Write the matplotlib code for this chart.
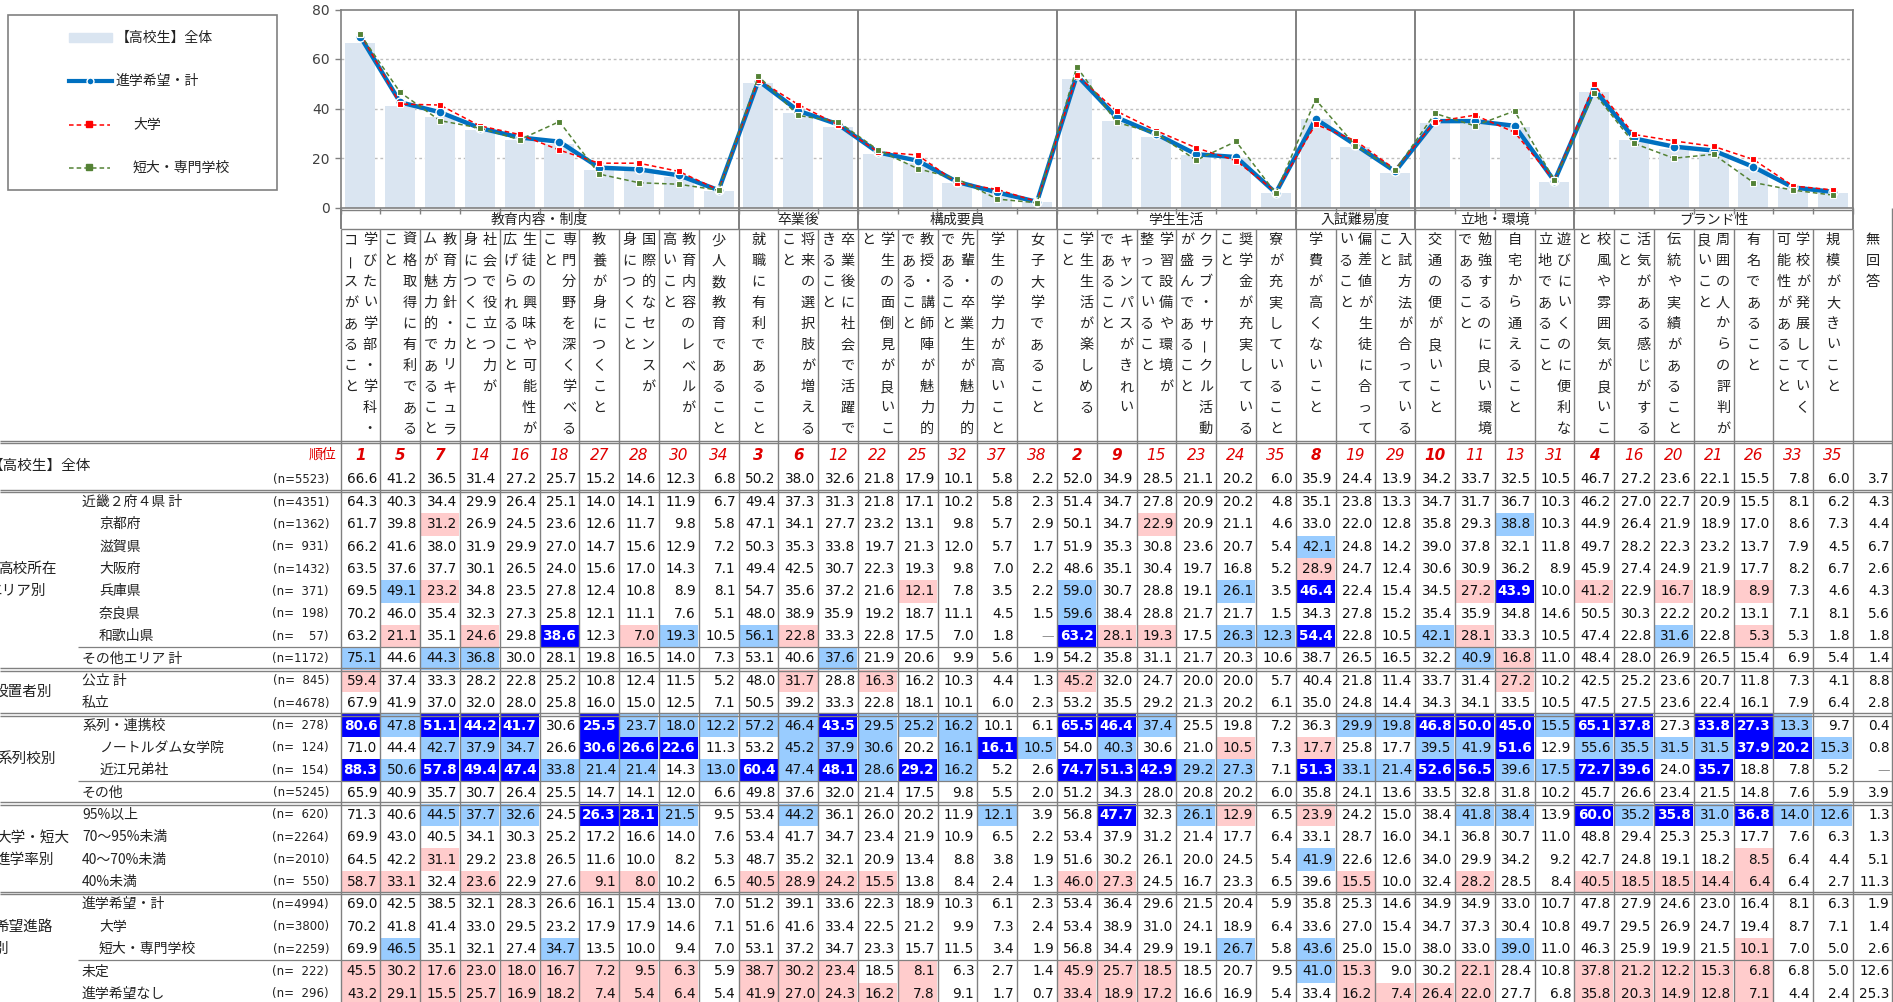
import matplotlib
matplotlib.use("Agg")
import matplotlib.pyplot as plt
from matplotlib.patches import Rectangle
from matplotlib.lines import Line2D
import numpy as np

JP = ['Noto Sans CJK JP', 'DejaVu Sans']
NUM = ['DejaVu Sans']

# ---------------- data ----------------
groups = ["教育内容・制度", "卒業後", "構成要員", "学生生活", "入試難易度", "立地・環境", "ブランド性"]
group_sizes = [10, 3, 5, 6, 3, 4, 7]

label_lines = [
    ["学びたい学部・学科・", "コースがあること"],
    ["資格取得に有利である", "こと"],
    ["教育方針・カリキュラ", "ムが魅力的であること"],
    ["社会で役立つ力が", "身につくこと"],
    ["生徒の興味や可能性が", "広げられること"],
    ["専門分野を深く学べる", "こと"],
    ["教養が身につくこと"],
    ["国際的なセンスが", "身につくこと"],
    ["教育内容のレベルが", "高いこと"],
    ["少人数教育であること"],
    ["就職に有利であること"],
    ["将来の選択肢が増える", "こと"],
    ["卒業後に社会で活躍で", "きること"],
    ["学生の面倒見が良いこ", "と"],
    ["教授・講師陣が魅力的", "であること"],
    ["先輩・卒業生が魅力的", "であること"],
    ["学生の学力が高いこと"],
    ["女子大学であること"],
    ["学生生活が楽しめる", "こと"],
    ["キャンパスがきれい", "であること"],
    ["学習設備や環境が", "整っていること"],
    ["クラブ・サークル活動", "が盛んであること"],
    ["奨学金が充実している", "こと"],
    ["寮が充実していること"],
    ["学費が高くないこと"],
    ["偏差値が生徒に合って", "いること"],
    ["入試方法が合っている", "こと"],
    ["交通の便が良いこと"],
    ["勉強するのに良い環境", "であること"],
    ["自宅から通えること"],
    ["遊びにいくのに便利な", "立地であること"],
    ["校風や雰囲気が良いこ", "と"],
    ["活気がある感じがする", "こと"],
    ["伝統や実績があること"],
    ["周囲の人からの評判が", "良いこと"],
    ["有名であること"],
    ["学校が発展していく", "可能性があること"],
    ["規模が大きいこと"],
    ["無回答"],
]

rank = [1, 5, 7, 14, 16, 18, 27, 28, 30, 34, 3, 6, 12, 22, 25, 32, 37, 38,
        2, 9, 15, 23, 24, 35, 8, 19, 29, 10, 11, 13, 31, 4, 16, 20, 21, 26, 33, 35]

zentai = [66.6, 41.2, 36.5, 31.4, 27.2, 25.7, 15.2, 14.6, 12.3, 6.8, 50.2, 38.0, 32.6,
          21.8, 17.9, 10.1, 5.8, 2.2, 52.0, 34.9, 28.5, 21.1, 20.2, 6.0, 35.9, 24.4, 13.9,
          34.2, 33.7, 32.5, 10.5, 46.7, 27.2, 23.6, 22.1, 15.5, 7.8, 6.0, 3.7]
kinki = [64.3, 40.3, 34.4, 29.9, 26.4, 25.1, 14.0, 14.1, 11.9, 6.7, 49.4, 37.3, 31.3,
         21.8, 17.1, 10.2, 5.8, 2.3, 51.4, 34.7, 27.8, 20.9, 20.2, 4.8, 35.1, 23.8, 13.3,
         34.7, 31.7, 36.7, 10.3, 46.2, 27.0, 22.7, 20.9, 15.5, 8.1, 6.2, 4.3]
kyoto = [61.7, 39.8, 31.2, 26.9, 24.5, 23.6, 12.6, 11.7, 9.8, 5.8, 47.1, 34.1, 27.7,
         23.2, 13.1, 9.8, 5.7, 2.9, 50.1, 34.7, 22.9, 20.9, 21.1, 4.6, 33.0, 22.0, 12.8,
         35.8, 29.3, 38.8, 10.3, 44.9, 26.4, 21.9, 18.9, 17.0, 8.6, 7.3, 4.4]
shiga = [66.2, 41.6, 38.0, 31.9, 29.9, 27.0, 14.7, 15.6, 12.9, 7.2, 50.3, 35.3, 33.8,
         19.7, 21.3, 12.0, 5.7, 1.7, 51.9, 35.3, 30.8, 23.6, 20.7, 5.4, 42.1, 24.8, 14.2,
         39.0, 37.8, 32.1, 11.8, 49.7, 28.2, 22.3, 23.2, 13.7, 7.9, 4.5, 6.7]
osaka = [63.5, 37.6, 37.7, 30.1, 26.5, 24.0, 15.6, 17.0, 14.3, 7.1, 49.4, 42.5, 30.7,
         22.3, 19.3, 9.8, 7.0, 2.2, 48.6, 35.1, 30.4, 19.7, 16.8, 5.2, 28.9, 24.7, 12.4,
         30.6, 30.9, 36.2, 8.9, 45.9, 27.4, 24.9, 21.9, 17.7, 8.2, 6.7, 2.6]
hyogo = [69.5, 49.1, 23.2, 34.8, 23.5, 27.8, 12.4, 10.8, 8.9, 8.1, 54.7, 35.6, 37.2,
         21.6, 12.1, 7.8, 3.5, 2.2, 59.0, 30.7, 28.8, 19.1, 26.1, 3.5, 46.4, 22.4, 15.4,
         34.5, 27.2, 43.9, 10.0, 41.2, 22.9, 16.7, 18.9, 8.9, 7.3, 4.6, 4.3]
nara = [70.2, 46.0, 35.4, 32.3, 27.3, 25.8, 12.1, 11.1, 7.6, 5.1, 48.0, 38.9, 35.9,
        19.2, 18.7, 11.1, 4.5, 1.5, 59.6, 38.4, 28.8, 21.7, 21.7, 1.5, 34.3, 27.8, 15.2,
        35.4, 35.9, 34.8, 14.6, 50.5, 30.3, 22.2, 20.2, 13.1, 7.1, 8.1, 5.6]
wakayama = [63.2, 21.1, 35.1, 24.6, 29.8, 38.6, 12.3, 7.0, 19.3, 10.5, 56.1, 22.8, 33.3,
            22.8, 17.5, 7.0, 1.8, None, 63.2, 28.1, 19.3, 17.5, 26.3, 12.3, 54.4, 22.8, 10.5,
            42.1, 28.1, 33.3, 10.5, 47.4, 22.8, 31.6, 22.8, 5.3, 5.3, 1.8, 1.8]
sonota_area = [75.1, 44.6, 44.3, 36.8, 30.0, 28.1, 19.8, 16.5, 14.0, 7.3, 53.1, 40.6, 37.6,
               21.9, 20.6, 9.9, 5.6, 1.9, 54.2, 35.8, 31.1, 21.7, 20.3, 10.6, 38.7, 26.5, 16.5,
               32.2, 40.9, 16.8, 11.0, 48.4, 28.0, 26.9, 26.5, 15.4, 6.9, 5.4, 1.4]
kouritsu = [59.4, 37.4, 33.3, 28.2, 22.8, 25.2, 10.8, 12.4, 11.5, 5.2, 48.0, 31.7, 28.8,
            16.3, 16.2, 10.3, 4.4, 1.3, 45.2, 32.0, 24.7, 20.0, 20.0, 5.7, 40.4, 21.8, 11.4,
            33.7, 31.4, 27.2, 10.2, 42.5, 25.2, 23.6, 20.7, 11.8, 7.3, 4.1, 8.8]
shiritsu = [67.9, 41.9, 37.0, 32.0, 28.0, 25.8, 16.0, 15.0, 12.5, 7.1, 50.5, 39.2, 33.3,
            22.8, 18.1, 10.1, 6.0, 2.3, 53.2, 35.5, 29.2, 21.3, 20.2, 6.1, 35.0, 24.8, 14.4,
            34.3, 34.1, 33.5, 10.5, 47.5, 27.5, 23.6, 22.4, 16.1, 7.9, 6.4, 2.8]
keiretsu = [80.6, 47.8, 51.1, 44.2, 41.7, 30.6, 25.5, 23.7, 18.0, 12.2, 57.2, 46.4, 43.5,
            29.5, 25.2, 16.2, 10.1, 6.1, 65.5, 46.4, 37.4, 25.5, 19.8, 7.2, 36.3, 29.9, 19.8,
            46.8, 50.0, 45.0, 15.5, 65.1, 37.8, 27.3, 33.8, 27.3, 13.3, 9.7, 0.4]
notre = [71.0, 44.4, 42.7, 37.9, 34.7, 26.6, 30.6, 26.6, 22.6, 11.3, 53.2, 45.2, 37.9,
         30.6, 20.2, 16.1, 16.1, 10.5, 54.0, 40.3, 30.6, 21.0, 10.5, 7.3, 17.7, 25.8, 17.7,
         39.5, 41.9, 51.6, 12.9, 55.6, 35.5, 31.5, 31.5, 37.9, 20.2, 15.3, 0.8]
oumi = [88.3, 50.6, 57.8, 49.4, 47.4, 33.8, 21.4, 21.4, 14.3, 13.0, 60.4, 47.4, 48.1,
        28.6, 29.2, 16.2, 5.2, 2.6, 74.7, 51.3, 42.9, 29.2, 27.3, 7.1, 51.3, 33.1, 21.4,
        52.6, 56.5, 39.6, 17.5, 72.7, 39.6, 24.0, 35.7, 18.8, 7.8, 5.2, None]
sonota = [65.9, 40.9, 35.7, 30.7, 26.4, 25.5, 14.7, 14.1, 12.0, 6.6, 49.8, 37.6, 32.0,
          21.4, 17.5, 9.8, 5.5, 2.0, 51.2, 34.3, 28.0, 20.8, 20.2, 6.0, 35.8, 24.1, 13.6,
          33.5, 32.8, 31.8, 10.2, 45.7, 26.6, 23.4, 21.5, 14.8, 7.6, 5.9, 3.9]
rate95 = [71.3, 40.6, 44.5, 37.7, 32.6, 24.5, 26.3, 28.1, 21.5, 9.5, 53.4, 44.2, 36.1,
          26.0, 20.2, 11.9, 12.1, 3.9, 56.8, 47.7, 32.3, 26.1, 12.9, 6.5, 23.9, 24.2, 15.0,
          38.4, 41.8, 38.4, 13.9, 60.0, 35.2, 35.8, 31.0, 36.8, 14.0, 12.6, 1.3]
rate70 = [69.9, 43.0, 40.5, 34.1, 30.3, 25.2, 17.2, 16.6, 14.0, 7.6, 53.4, 41.7, 34.7,
          23.4, 21.9, 10.9, 6.5, 2.2, 53.4, 37.9, 31.2, 21.4, 17.7, 6.4, 33.1, 28.7, 16.0,
          34.1, 36.8, 30.7, 11.0, 48.8, 29.4, 25.3, 25.3, 17.7, 7.6, 6.3, 1.3]
rate40 = [64.5, 42.2, 31.1, 29.2, 23.8, 26.5, 11.6, 10.0, 8.2, 5.3, 48.7, 35.2, 32.1,
          20.9, 13.4, 8.8, 3.8, 1.9, 51.6, 30.2, 26.1, 20.0, 24.5, 5.4, 41.9, 22.6, 12.6,
          34.0, 29.9, 34.2, 9.2, 42.7, 24.8, 19.1, 18.2, 8.5, 6.4, 4.4, 5.1]
rate0 = [58.7, 33.1, 32.4, 23.6, 22.9, 27.6, 9.1, 8.0, 10.2, 6.5, 40.5, 28.9, 24.2,
         15.5, 13.8, 8.4, 2.4, 1.3, 46.0, 27.3, 24.5, 16.7, 23.3, 6.5, 39.6, 15.5, 10.0,
         32.4, 28.2, 28.5, 8.4, 40.5, 18.5, 18.5, 14.4, 6.4, 6.4, 2.7, 11.3]
shingaku_kei = [69.0, 42.5, 38.5, 32.1, 28.3, 26.6, 16.1, 15.4, 13.0, 7.0, 51.2, 39.1, 33.6,
                22.3, 18.9, 10.3, 6.1, 2.3, 53.4, 36.4, 29.6, 21.5, 20.4, 5.9, 35.8, 25.3, 14.6,
                34.9, 34.9, 33.0, 10.7, 47.8, 27.9, 24.6, 23.0, 16.4, 8.1, 6.3, 1.9]
daigaku = [70.2, 41.8, 41.4, 33.0, 29.5, 23.2, 17.9, 17.9, 14.6, 7.1, 51.6, 41.6, 33.4,
           22.5, 21.2, 9.9, 7.3, 2.4, 53.4, 38.9, 31.0, 24.1, 18.9, 6.4, 33.6, 27.0, 15.4,
           34.7, 37.3, 30.4, 10.8, 49.7, 29.5, 26.9, 24.7, 19.4, 8.7, 7.1, 1.4]
tandai = [69.9, 46.5, 35.1, 32.1, 27.4, 34.7, 13.5, 10.0, 9.4, 7.0, 53.1, 37.2, 34.7,
          23.3, 15.7, 11.5, 3.4, 1.9, 56.8, 34.4, 29.9, 19.1, 26.7, 5.8, 43.6, 25.0, 15.0,
          38.0, 33.0, 39.0, 11.0, 46.3, 25.9, 19.9, 21.5, 10.1, 7.0, 5.0, 2.6]
mitei = [45.5, 30.2, 17.6, 23.0, 18.0, 16.7, 7.2, 9.5, 6.3, 5.9, 38.7, 30.2, 23.4,
         18.5, 8.1, 6.3, 2.7, 1.4, 45.9, 25.7, 18.5, 18.5, 20.7, 9.5, 41.0, 15.3, 9.0,
         30.2, 22.1, 28.4, 10.8, 37.8, 21.2, 12.2, 15.3, 6.8, 6.8, 5.0, 12.6]
nashi = [43.2, 29.1, 15.5, 25.7, 16.9, 18.2, 7.4, 5.4, 6.4, 5.4, 41.9, 27.0, 24.3,
         16.2, 7.8, 9.1, 1.7, 0.7, 33.4, 18.9, 17.2, 16.6, 16.9, 5.4, 33.4, 16.2, 7.4,
         26.4, 22.0, 27.7, 6.8, 35.8, 20.3, 14.9, 12.8, 7.1, 4.4, 2.4, 25.3]

row_names = ["近畿２府４県 計", "京都府", "滋賀県", "大阪府", "兵庫県", "奈良県", "和歌山県",
             "その他エリア 計", "公立 計", "私立", "系列・連携校", "ノートルダム女学院", "近江兄弟社",
             "その他", "95%以上", "70～95%未満", "40～70%未満", "40%未満",
             "進学希望・計", "大学", "短大・専門学校", "未定", "進学希望なし"]
row_n = [4351, 1362, 931, 1432, 371, 198, 57, 1172, 845, 4678, 278, 124, 154, 5245,
         620, 2264, 2010, 550, 4994, 3800, 2259, 222, 296]
row_indent = [0, 1, 1, 1, 1, 1, 1, 0, 0, 0, 0, 1, 1, 0, 0, 0, 0, 0, 0, 1, 1, 0, 0]
row_values = [kinki, kyoto, shiga, osaka, hyogo, nara, wakayama, sonota_area, kouritsu,
              shiritsu, keiretsu, notre, oumi, sonota, rate95, rate70, rate40, rate0,
              shingaku_kei, daigaku, tandai, mitei, nashi]
zentai_n = 5523

series_labels = ["【高校生】全体", "進学希望・計", "大学", "短大・専門学校"]

# ---------------- layout ----------------
W, H = 1893, 1002
X0, CW = 340.5, 39.8
NC = 39
PLOT_TOP, PLOT_BOT = 9.5, 207.5
HDR_BOT = 229
LBL_BOT = 442
RANK_Y, TOT_Y = 455, 479
ROW0, RH = 502, 22.35
GRID = '#808080'

BAR_C = '#dae5f1'
BLUE_C = '#0070c0'
RED_C = '#ff0000'
GREEN_C = '#548235'
DARK_BG, LIGHT_BG, PINK_BG = '#0000ff', '#99ccff', '#ffcccc'

fig = plt.figure(figsize=(W / 100, H / 100), dpi=100)
tax = fig.add_axes([0, 0, 1, 1])
tax.set_xlim(0, W)
tax.set_ylim(H, 0)
tax.axis('off')


def cl(i):
    return X0 + i * CW


def hline(y, x1=0, x2=W, double=False, lw=1.0):
    if double:
        for dy in (-1.3, 1.3):
            tax.plot([x1, x2], [y + dy, y + dy], color=GRID, lw=1.0, zorder=2, solid_capstyle='butt')
    else:
        tax.plot([x1, x2], [y, y], color=GRID, lw=lw, zorder=2, solid_capstyle='butt')


def vline(x, y1, y2, lw=1.0):
    tax.plot([x, x], [y1, y2], color=GRID, lw=lw, zorder=2, solid_capstyle='butt')


# ---------------- chart ----------------
ax = fig.add_axes([X0 / W, 1 - PLOT_BOT / H, 38 * CW / W, (PLOT_BOT - PLOT_TOP) / H])
x = np.arange(38)
ax.bar(x, zentai[:38], width=0.75, color=BAR_C, zorder=1)
for g in (20, 40, 60):
    ax.axhline(g, color='#bfbfbf', lw=1.0, ls=(0, (2, 2)), zorder=0.5)
ax.plot(x, shingaku_kei[:38], color=BLUE_C, lw=3.2, marker='o', ms=6.5, mfc=BLUE_C,
        mec='white', mew=1.0, zorder=3)
ax.plot(x, daigaku[:38], color=RED_C, lw=1.1, ls=(0, (3, 2)), marker='s', ms=5, mfc=RED_C,
        mec='white', mew=0.8, zorder=4)
ax.plot(x, tandai[:38], color=GREEN_C, lw=1.1, ls=(0, (3, 2)), marker='s', ms=5, mfc=GREEN_C,
        mec='white', mew=0.8, zorder=5)
ax.set_xlim(-0.5, 37.5)
ax.set_ylim(0, 80)
ax.set_yticks([0, 20, 40, 60, 80])
ax.set_xticks(np.arange(-0.5, 38, 1.0))
ax.set_xticklabels([])
ax.tick_params(axis='x', length=4, color=GRID, width=1)
ax.tick_params(axis='y', length=4, color=GRID, width=1, labelsize=10, labelcolor='#404040', pad=4)
for s in ax.spines.values():
    s.set_color(GRID)
    s.set_linewidth(1.2)
b = 0
for gs in group_sizes:
    b += gs
    ax.axvline(b - 0.5, color=GRID, lw=1.4, zorder=2)

# ---------------- legend ----------------
tax.add_patch(Rectangle((8, 15), 269, 175, fill=False, ec=GRID, lw=1.2, zorder=2))
tax.add_patch(Rectangle((69, 33), 43, 9, color=BAR_C, zorder=3))
tax.add_line(Line2D([69, 112], [81, 81], color=BLUE_C, lw=3.0, zorder=3))
tax.add_line(Line2D([90], [81], marker='o', ms=5, mfc=BLUE_C, mec='white', mew=1, zorder=4))
tax.add_line(Line2D([69, 110], [125, 125], color=RED_C, lw=1.1, ls=(0, (3, 2)), zorder=3))
tax.add_line(Line2D([89], [124], marker='s', ms=4, mfc=RED_C, mec=RED_C, zorder=4))
tax.add_line(Line2D([69, 110], [168, 168], color=GREEN_C, lw=1.1, ls=(0, (3, 2)), zorder=3))
tax.add_line(Line2D([89], [167], marker='s', ms=4, mfc=GREEN_C, mec=GREEN_C, zorder=4))
for txt, lx, ly in zip(series_labels, [116, 116, 133, 133], [38, 81, 125, 168]):
    tax.text(lx, ly, txt, ha='left', va='center', fontsize=10, family=JP, color='#222222')

# ---------------- header ----------------
start = 0
for gname, gs in zip(groups, group_sizes):
    cx = X0 + (start + gs / 2) * CW
    tax.text(cx, 220, gname, ha='center', va='center', fontsize=10, family=JP, color='#222222')
    vline(cl(start), PLOT_BOT, HDR_BOT, lw=1.4)
    start += gs
vline(cl(38), PLOT_BOT, HDR_BOT, lw=1.4)
hline(PLOT_BOT + 2, X0, cl(38))
hline(HDR_BOT, X0, cl(38))
vline(W - 1, PLOT_BOT, H)

for i, lines in enumerate(label_lines):
    cx = X0 + (i + 0.5) * CW
    offs = [0.0] if len(lines) == 1 else [9.5, -9.5]
    for k, line in enumerate(lines):
        for j, ch in enumerate(line):
            rot = 90 if ch == 'ー' else 0
            tax.text(cx + offs[k], 240 + j * 21, ch, ha='center', va='center', fontsize=10.2,
                     family=JP, rotation=rot, color='#222222')

# vertical column lines through label area and table
for i in range(NC + 1):
    vline(cl(i), HDR_BOT, H)

# ---------------- rank + total rows ----------------
hline(LBL_BOT, double=True)
tax.text(336, RANK_Y, "順位", ha='right', va='center', fontsize=10, family=JP, color='#e00000')
for i, r in enumerate(rank):
    tax.text(X0 + (i + 0.5) * CW, RANK_Y, str(r), ha='center', va='center', fontsize=11,
             family=NUM, style='italic', fontweight='bold' if r <= 10 else 'normal', color='#e00000')
tax.text(-12, 466, "【高校生】全体", ha='left', va='center', fontsize=10.5, family=JP, color='#222222')


def ntext(n):
    s = str(n)
    return "(n=" + "\u2007" * (4 - len(s)) + s + ")"


tax.text(329, TOT_Y, ntext(zentai_n), ha='right', va='center', fontsize=8.5, family=NUM, color='#222222')
for i, v in enumerate(zentai):
    tax.text(cl(i + 1) - 3, TOT_Y, f"{v:.1f}", ha='right', va='center', fontsize=9.8, family=NUM,
             color='#111111')

# ---------------- data rows ----------------
hline(ROW0 - RH / 2, double=True)
for r, (name, n, ind, vals) in enumerate(zip(row_names, row_n, row_indent, row_values)):
    y = ROW0 + r * RH
    tax.text(99 if ind else 82, y, name, ha='left', va='center', fontsize=10, family=JP, color='#222222')
    tax.text(329, y, ntext(n), ha='right', va='center', fontsize=8.5, family=NUM, color='#222222')
    for i, v in enumerate(vals):
        xr = cl(i + 1) - 3
        if v is None:
            tax.text(xr, y, "—", ha='right', va='center', fontsize=9, family=NUM, color='#909090')
            continue
        bg = None
        if i < 38:
            d = round(v - zentai[i], 1)
            if d >= 10:
                bg = DARK_BG
            elif d >= 5:
                bg = LIGHT_BG
            elif d <= -5:
                bg = PINK_BG
        if bg is not None:
            tax.add_patch(Rectangle((cl(i) + 0.6, y - RH / 2), CW - 1.2, RH, color=bg, lw=0, zorder=1))
        dark = bg == DARK_BG
        tax.text(xr, y, f"{v:.1f}", ha='right', va='center', fontsize=9.8, family=NUM,
                 fontweight='bold' if dark else 'normal', color='white' if dark else '#111111', zorder=3)

# group separators
sep_thin = [6, 12, 20]
sep_double = [7, 9, 13, 17]
for k in sep_thin:
    hline(ROW0 + k * RH + RH / 2, 78, W, lw=0.9)
for k in sep_double:
    hline(ROW0 + k * RH + RH / 2, double=True)

# group labels (left, partially cut by the image edge as in the reference)
gl = [("高校所在", -2, ROW0 + 3 * RH), ("エリア別", -12, ROW0 + 4 * RH),
      ("設置者別", -7, ROW0 + 8.5 * RH), ("系列校別", -3, ROW0 + 11.5 * RH),
      ("大学・短大", -4, ROW0 + 15 * RH), ("進学率別", -5, ROW0 + 16 * RH),
      ("希望進路", -6, ROW0 + 19 * RH), ("別", -6, ROW0 + 20 * RH)]
for t, gx, gy in gl:
    tax.text(gx, gy, t, ha='left', va='center', fontsize=10.5, family=JP, color='#222222')

fig.savefig("out.png", dpi=100)
